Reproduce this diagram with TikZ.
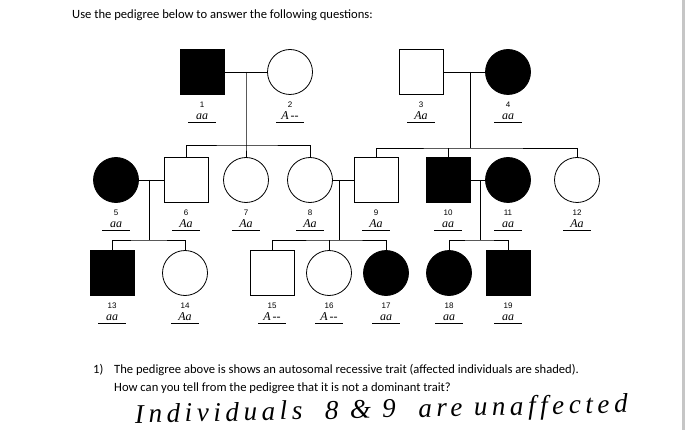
\documentclass[tikz,border=0pt]{standalone}
\usepackage{fontspec}
\setmainfont{Carlito}
\newfontfamily\numfont{Liberation Sans}
\newfontfamily\handfont{Liberation Serif}
\newfontfamily\scrawlfont{Liberation Serif}[LetterSpace=17]
\usetikzlibrary{positioning}

\tikzset{
  male/.style={draw, line width=0.8pt, rectangle, minimum width=44pt, minimum height=45pt, inner sep=0pt},
  female/.style={draw, line width=0.8pt, circle, minimum size=45pt, inner sep=0pt},
  affected/.style={fill=black},
  link/.style={line width=0.8pt},
  idnum/.style={font=\numfont\fontsize{8}{9}\selectfont, inner sep=0pt, anchor=base},
  geno/.style={font=\handfont\itshape\fontsize{12}{12}\selectfont, inner sep=0pt, anchor=base},
  blank/.style={line width=0.7pt},
  printed/.style={font=\fontsize{12.6}{15}\selectfont, inner sep=0pt, anchor=base west}
}

\begin{document}
\begin{tikzpicture}[x=1pt, y=-1pt]
    \useasboundingbox[fill=white] (0,0) rectangle (700,430);
    % page edge
    \fill[gray!45] (682,0) rectangle (685,430);

    \node[printed] (title) at (72,19) {Use the pedigree below to answer the following questions:};

    % generation I
    \node[male, affected] (n1) at (202,72) {};
    \node[female] (n2) at (290,72) {};
    \node[male] (n3) at (421,72) {};
    \node[female, affected] (n4) at (508,72) {};

    % generation II
    \node[female, affected] (n5) at (116,180) {};
    \node[male] (n6) at (186,180) {};
    \node[female] (n7) at (246,180) {};
    \node[female] (n8) at (310,180) {};
    \node[male] (n9) at (376,180) {};
    \node[male, affected] (n10) at (448,180) {};
    \node[female, affected] (n11) at (508,180) {};
    \node[female] (n12) at (577,180) {};

    % generation III
    \node[male, affected] (n13) at (112,273) {};
    \node[female] (n14) at (185,273) {};
    \node[male] (n15) at (272,273) {};
    \node[female] (n16) at (329,273) {};
    \node[female, affected] (n17) at (386,273) {};
    \node[female, affected] (n18) at (449,273) {};
    \node[male, affected] (n19) at (508,273) {};

    % matings and sibships
    \draw[link] (n1) -- (n2);
    \coordinate (m12) at (246,72);
    \coordinate (s12) at (246,145);
    \draw[link] (m12) -- (s12) -- (n7.north);
    \draw[link] (n6.north) |- (s12) -| (n8.north);

    \draw[link] (n3) -- (n4);
    \coordinate (m34) at (470,72);
    \coordinate (s34) at (470,148);
    \draw[link] (m34) -- (s34);
    \draw[link] (n9.north) |- (s34) -| (n12.north);
    \draw[link] (n10.north) -- (n10.north |- s34);

    \draw[link] (n5) -- (n6);
    \coordinate (m56) at (149,180);
    \coordinate (s56) at (149,240);
    \draw[link] (m56) -- (s56);
    \draw[link] (n13.north) |- (s56) -| (n14.north);

    \draw[link] (n8) -- (n9);
    \coordinate (m89) at (339,180);
    \coordinate (s89) at (339,240);
    \draw[link] (m89) -- (s89);
    \draw[link] (n15.north) |- (s89) -| (n17.north);
    \draw[link] (n16.north) -- (n16.north |- s89);

    \draw[link] (n10) -- (n11);
    \coordinate (m1011) at (480,180);
    \coordinate (s1011) at (480,240);
    \draw[link] (m1011) -- (s1011);
    \draw[link] (n18.north) |- (s1011) -| (n19.north);

    % numbers, genotypes and blanks
    \foreach \i/\g in {1/aa, 2/A\,--, 3/Aa, 4/aa, 5/aa, 6/Aa, 7/Aa, 8/Aa, 9/Aa, 10/aa,
                       11/aa, 12/Aa, 13/aa, 14/Aa, 15/A\,--, 16/A\,--, 17/aa, 18/aa, 19/aa} {
        \node[idnum] (l\i) at ([yshift=-13pt]n\i.south) {\i};
        \node[geno] (g\i) at ([yshift=-25pt]n\i.south) {\g};
        \draw[blank] ([xshift=-14pt, yshift=-2.5pt]g\i.base) -- ([xshift=14pt, yshift=-2.5pt]g\i.base);
    }

    % question
    \node[printed] (q1) at (93,373) {1)};
    \node[printed] (q1a) at (114,373) {The pedigree above is shows an autosomal recessive trait (affected individuals are shaded).};
    \node[printed] (q1b) at (114,391) {How can you tell from the pedigree that it is not a dominant trait?};
    \node[anchor=base west, inner sep=0pt, rotate=1.2, font=\scrawlfont\itshape\fontsize{27}{27}\selectfont] (ans) at (135,423)
        {Individuals\ \ 8 \& 9\ \ are unaffected};
\end{tikzpicture}
\end{document}
